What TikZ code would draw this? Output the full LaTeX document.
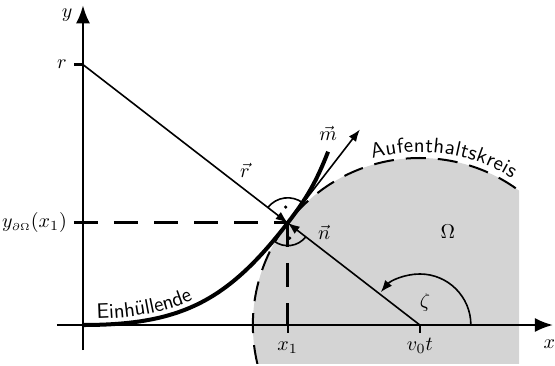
\documentclass[tikz,border=0pt]{standalone}
\usepackage{fontspec}
\usepackage{amsmath}
\usetikzlibrary{arrows.meta,decorations.text,calc}

\begin{document}
\begin{tikzpicture}[axis/.style={line width=1.2pt,-{Latex[length=9pt,width=7pt]}},
  vec/.style={line width=0.8pt,-{Latex[length=6pt,width=4.5pt]}},
  helper/.style={line width=1.4pt,dash pattern=on 12pt off 8pt},
  circ/.style={line width=1pt,dash pattern=on 10pt off 6pt},
  envelope/.style={line width=2pt},
  ticks/.style={line width=1.2pt},
  rightangle/.style={line width=0.8pt}]
  \useasboundingbox (-1.456,-0.702) rectangle (8.281,5.702);
  \coordinate (O) at (0,0);
  \coordinate (C) at (5.91,0);
  \coordinate (P) at ($(C)+(142.3:2.93)$);
  \coordinate (Ytop) at (0,5.61);
  \coordinate (Ybot) at (0,-0.44);
  \coordinate (Xtop) at (8.246,0);
  \coordinate (Xbot) at (-0.456,0);
  \coordinate (R) at (intersection of C--P and O--Ytop);
  \coordinate (Rtick) at ($(R)+(-0.16,0)$);
  \coordinate (Ytick) at ($(P-|O)+(-0.16,0)$);
  \coordinate (X1) at (P|-O);
  \coordinate (X1tick) at ($(X1)+(0,-0.14)$);
  \coordinate (Ctick) at ($(C)+(0,-0.14)$);
  \coordinate (M) at ($(P)+(52.3:2.07)$);
  \coordinate (E) at (4.30,3.04);

  \begin{scope}
    \clip (-1.456,-0.667) rectangle (7.65,5.702);
    \fill[black!17] (C) circle (2.93);
    \draw[circ] (C) circle (2.93);
  \end{scope}
  \path[decorate,decoration={text along path,raise=3pt,
    text={|\sffamily\fontsize{10.5}{12}\selectfont|Aufenthaltskreis}}]
    ($(C)+(106:2.93)$) arc[start angle=106,end angle=40,radius=2.93];

  \draw[axis] (Xbot) -- (Xtop);
  \draw[axis] (Ybot) -- (Ytop);
  \draw[ticks] (R) -- (Rtick);
  \draw[ticks] (X1) -- (X1tick);
  \draw[ticks] (C) -- (Ctick);
  \draw[helper] (Ytick) -- (P);
  \draw[helper] (P) -- (X1);

  \draw[envelope] (O) to[out=0,in=232.3,looseness=1.1] (P)
    to[out=52.3,in=248.5] (E);
  \path[decorate,decoration={text along path,raise=3pt,
    text align={left indent=0.25cm},text={|\sffamily\fontsize{10.5}{12}\selectfont|Einhüllende}}]
    (O) to[out=0,in=232.3,looseness=1.1] (P);

  \draw[vec] (R) -- (P);
  \draw[vec] (C) -- (P);
  \draw[vec] (P) -- (M);
  \draw[vec] ($(C)+(0.895,0)$) arc[start angle=0,end angle=140,radius=0.895];

  \draw[rightangle] ($(P)+(52.3:0.44)$) arc[start angle=52.3,end angle=142.3,radius=0.44];
  \fill ($(P)+(97.3:0.28)$) circle (0.9pt);
  \draw[rightangle] ($(P)+(232.3:0.40)$) arc[start angle=232.3,end angle=322.3,radius=0.40];
  \fill ($(P)+(277.3:0.27)$) circle (0.9pt);

  \node (ylab) at (-0.28,5.44) {$y$};
  \node (xlab) at (8.18,-0.34) {$x$};
  \node[left] (rlab) at (Rtick) {$r$};
  \node[left] (yplab) at (Ytick) {$y_{\scriptscriptstyle\partial\Omega}(x_1)$};
  \node (x1lab) at (3.59,-0.39) {$x_1$};
  \node (vtlab) at (5.91,-0.37) {$v_0t$};
  \node (rvec) at (2.84,2.72) {$\vec{r}$};
  \node (mvec) at (4.30,3.36) {$\vec{m}$};
  \node (nvec) at (4.23,1.63) {$\vec{n}$};
  \node (omega) at (6.40,1.63) {$\Omega$};
  \node (zeta) at (6.00,0.39) {$\zeta$};
\end{tikzpicture}
\end{document}
